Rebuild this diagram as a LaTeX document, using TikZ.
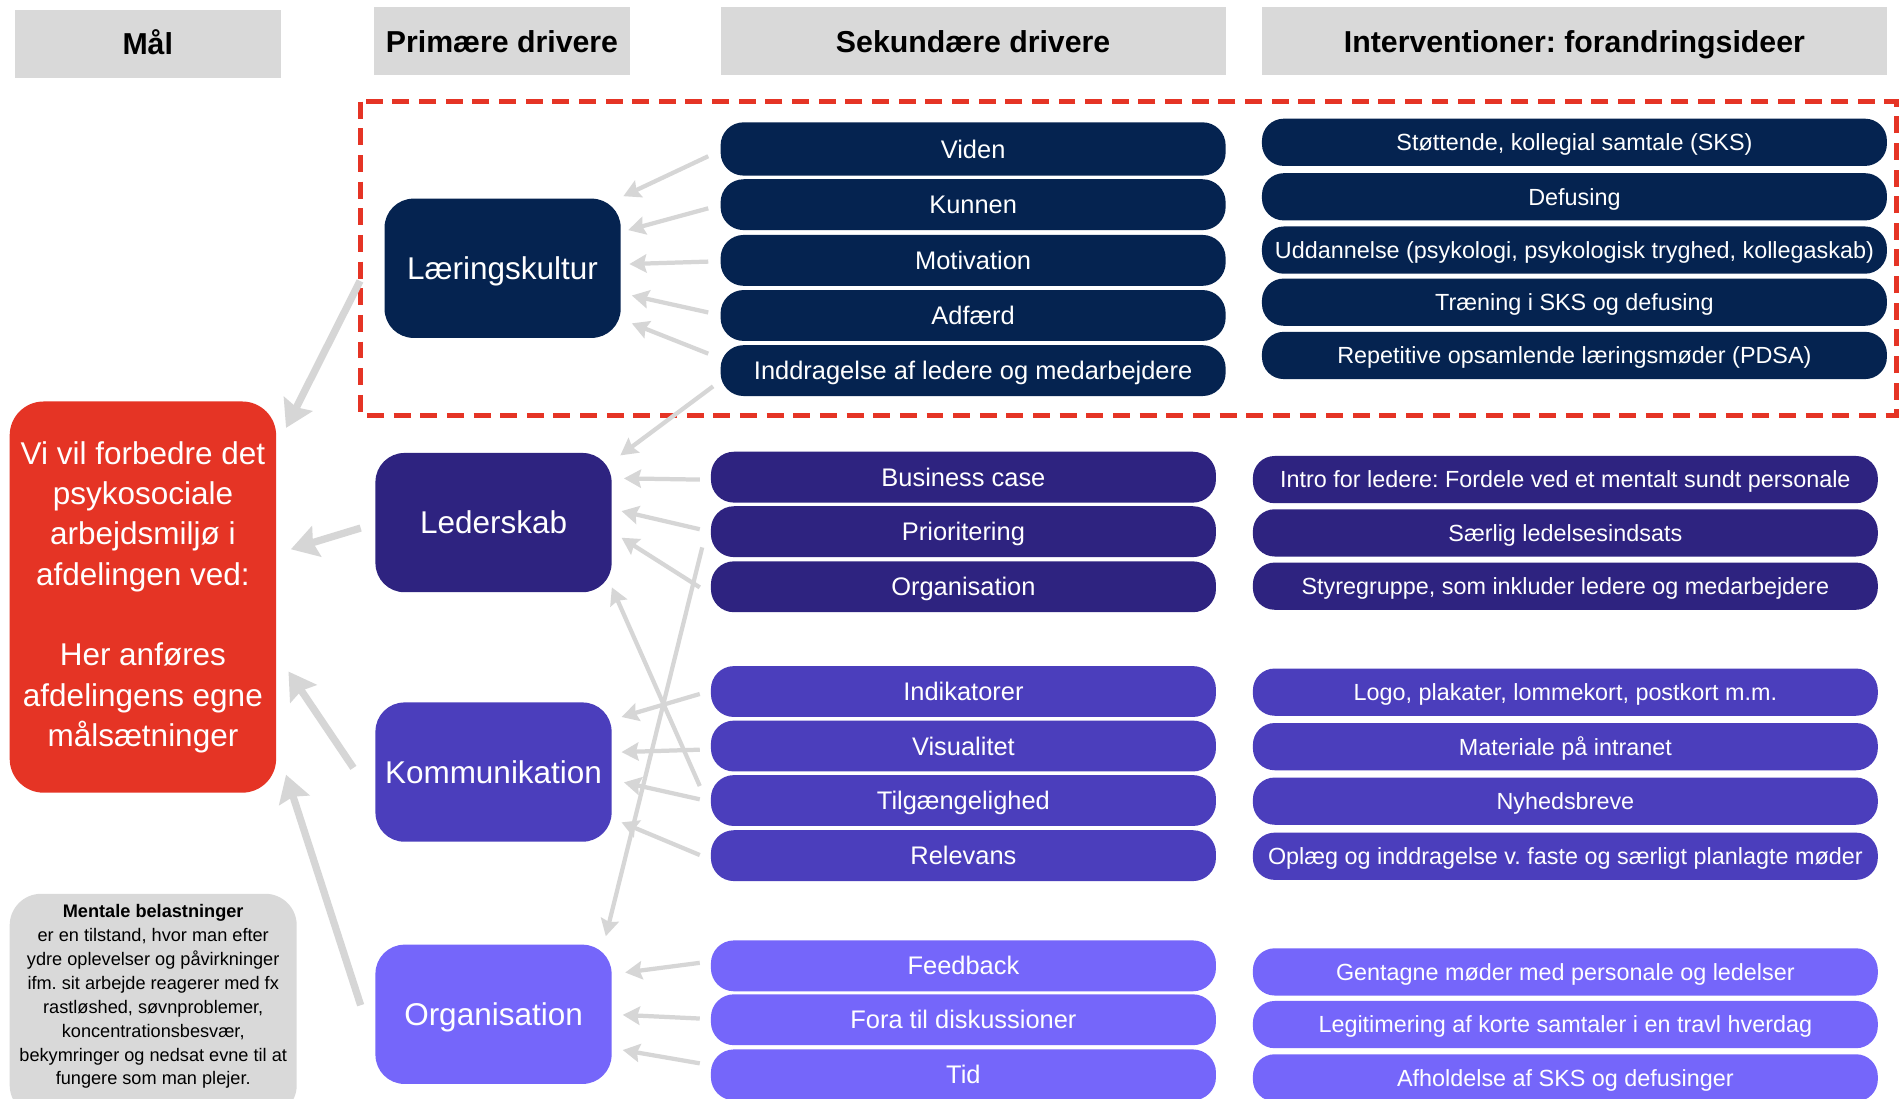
\documentclass[tikz,border=0pt]{standalone}
\usepackage{fontspec}
\setmainfont{Liberation Sans}
\frenchspacing
\usetikzlibrary{arrows.meta}
\definecolor{navy}{RGB}{5,35,80}
\definecolor{indigo}{RGB}{46,35,128}
\definecolor{violet}{RGB}{75,62,188}
\definecolor{lilac}{RGB}{117,102,250}
\definecolor{goalred}{RGB}{229,52,37}
\definecolor{headgray}{RGB}{217,217,217}
\definecolor{arrowgray}{RGB}{214,214,214}
\begin{document}
\begin{tikzpicture}[x=1pt,y=-1pt,
    head/.style={fill=headgray,minimum height=56pt,inner sep=0pt,text height=18pt,text depth=0pt,font=\bfseries\fontsize{25}{30}\selectfont},
    prim/.style={rounded corners=24pt,minimum width=195pt,minimum height=115pt,inner sep=0pt,text=white,text height=18.6pt,text depth=0pt,font=\fontsize{26}{31}\selectfont},
    sek/.style={rounded corners=19pt,minimum width=417pt,minimum height=42pt,inner sep=0pt,text=white,text height=15pt,text depth=0pt,font=\fontsize{21}{25}\selectfont},
    intv/.style={rounded corners=18pt,minimum width=516pt,minimum height=39pt,inner sep=0pt,text=white,text height=13.8pt,text depth=0pt,font=\fontsize{19.3}{23}\selectfont},
    sarrow/.style={draw=arrowgray,line width=3.5pt,-{Stealth[length=14pt,width=15pt,inset=2pt]}},
    parrow/.style={draw=arrowgray,line width=6pt,-{Stealth[length=22pt,width=26pt,inset=3pt]}}]
        \useasboundingbox (0,0) rectangle (1568,907);
        \fill[white] (0,0) rectangle (1568,907);
        \clip (0,0) rectangle (1568,907);

        %Overskrifter
        \node[head,minimum width=220pt] (hmaal) at (122,36) {Mål};
        \node[head,minimum width=211pt] (hprim) at (414.5,34) {Primære drivere};
        \node[head,minimum width=417pt] (hsek) at (803.5,34) {Sekundære drivere};
        \node[head,minimum width=516pt] (hint) at (1300,34) {Interventioner: forandringsideer};

        %Ramme
        \draw[goalred,line width=4pt,dash pattern=on 14pt off 8pt] (298,84) rectangle (1566,343);

        %Mål
        \node[fill=goalred,rounded corners=28pt,minimum width=220pt,minimum height=323pt,text=white,align=center,
              font=\fontsize{26}{33.3}\selectfont] (goal) at (118,493)
              {Vi vil forbedre det\\psykosociale\\arbejdsmiljø i\\afdelingen ved:\\[33.3pt]Her anføres\\afdelingens egne\\målsætninger};
        \node[fill=headgray,rounded corners=26pt,minimum width=237pt,minimum height=184pt] (note) at (126.5,830) {};
        \node[align=center,font=\fontsize{15}{19.7}\selectfont] (notetxt) at (note.center |- 0,823)
              {\textbf{Mentale belastninger}\\er en tilstand, hvor man efter\\ydre oplevelser og påvirkninger\\ifm. sit arbejde reagerer med fx\\rastløshed, søvnproblemer,\\koncentrationsbesvær,\\bekymringer og nedsat evne til at\\fungere som man plejer.};

        %Primære drivere
        \node[prim,fill=navy] (laering) at (415,221.5) {Læringskultur};
        \node[prim,fill=indigo] (leder) at (407.5,431.5) {Lederskab};
        \node[prim,fill=violet] (komm) at (407.5,637.5) {Kommunikation};
        \node[prim,fill=lilac] (orga) at (407.5,837.5) {Organisation};

        %Sekundære drivere
        \node[sek,fill=navy,minimum height=44pt] (viden) at (803.5,123) {Viden};
        \node[sek,fill=navy] (kunnen) at (803.5,169) {Kunnen};
        \node[sek,fill=navy] (motiv) at (803.5,215) {Motivation};
        \node[sek,fill=navy] (adfaerd) at (803.5,260.5) {Adfærd};
        \node[sek,fill=navy] (inddrag) at (803.5,306) {Inddragelse af ledere og medarbejdere};
        \node[sek,fill=indigo] (bizcase) at (795.5,394) {Business case};
        \node[sek,fill=indigo] (prio) at (795.5,439) {Prioritering};
        \node[sek,fill=indigo] (sorga) at (795.5,484.5) {Organisation};
        \node[sek,fill=violet] (indik) at (795.5,571) {Indikatorer};
        \node[sek,fill=violet] (visu) at (795.5,616) {Visualitet};
        \node[sek,fill=violet] (tilg) at (795.5,661) {Tilgængelighed};
        \node[sek,fill=violet] (relev) at (795.5,706.5) {Relevans};
        \node[sek,fill=lilac] (feedb) at (795.5,797.5) {Feedback};
        \node[sek,fill=lilac] (fora) at (795.5,842) {Fora til diskussioner};
        \node[sek,fill=lilac] (tid) at (795.5,887.5) {Tid};

        %Interventioner
        \node[intv,fill=navy] (sks) at (1300,117.5) {Støttende, kollegial samtale (SKS)};
        \node[intv,fill=navy] (defus) at (1300,162.5) {Defusing};
        \node[intv,fill=navy] (uddan) at (1300,206.5) {Uddannelse (psykologi, psykologisk tryghed, kollegaskab)};
        \node[intv,fill=navy] (traen) at (1300,249.5) {Træning i SKS og defusing};
        \node[intv,fill=navy] (pdsa) at (1300,293.5) {Repetitive opsamlende læringsmøder (PDSA)};
        \node[intv,fill=indigo] (intro) at (1292.5,396) {Intro for ledere: Fordele ved et mentalt sundt personale};
        \node[intv,fill=indigo] (saerlig) at (1292.5,440) {Særlig ledelsesindsats};
        \node[intv,fill=indigo] (styre) at (1292.5,484) {Styregruppe, som inkluder ledere og medarbejdere};
        \node[intv,fill=violet] (logo) at (1292.5,571.5) {Logo, plakater, lommekort, postkort m.m.};
        \node[intv,fill=violet] (mater) at (1292.5,616.5) {Materiale på intranet};
        \node[intv,fill=violet] (nyhed) at (1292.5,661.5) {Nyhedsbreve};
        \node[intv,fill=violet] (oplaeg) at (1292.5,707) {Oplæg og inddragelse v. faste og særligt planlagte møder};
        \node[intv,fill=lilac] (gentag) at (1292.5,802.5) {Gentagne møder med personale og ledelser};
        \node[intv,fill=lilac] (legit) at (1292.5,846) {Legitimering af korte samtaler i en travl hverdag};
        \node[intv,fill=lilac] (afhold) at (1292.5,890) {Afholdelse af SKS og defusinger};

        %Pile til mål
        \draw[parrow] ([xshift=-20pt,yshift=-10.5pt]laering.west) -- ([xshift=8pt,yshift=-22pt]goal.north east);
        \draw[parrow] ([xshift=-12pt,yshift=-4.5pt]leder.west) -- ([xshift=12pt,yshift=39.5pt]goal.east);
        \draw[parrow] ([xshift=-18pt,yshift=3.5pt]komm.west) -- ([xshift=10pt,yshift=-61.5pt]goal.east);
        \draw[parrow] ([xshift=-12pt,yshift=7.5pt]orga.west) -- ([xshift=8pt,yshift=15pt]goal.south east);

        %Pile til primære drivere
        \draw[sarrow] ([xshift=-10pt,yshift=-6pt]viden.west) -- ([xshift=2pt,yshift=59.5pt]laering.east);
        \draw[sarrow] ([xshift=-10pt,yshift=-3pt]kunnen.west) -- ([xshift=6pt,yshift=31.5pt]laering.east);
        \draw[sarrow] ([xshift=-10pt,yshift=-1pt]motiv.west) -- ([xshift=7pt,yshift=3.5pt]laering.east);
        \draw[sarrow] ([xshift=-10pt,yshift=2.5pt]adfaerd.west) -- ([xshift=9pt,yshift=-22.5pt]laering.east);
        \draw[sarrow] ([xshift=-10pt,yshift=14pt]inddrag.west) -- ([xshift=9pt,yshift=-45.5pt]laering.east);
        \draw[sarrow] ([xshift=-6pt,yshift=-13pt]inddrag.west) -- ([xshift=7pt,yshift=55.5pt]leder.east);

        \draw[sarrow] ([xshift=-9pt,yshift=-2pt]bizcase.west) -- ([xshift=10pt,yshift=36.5pt]leder.east);
        \draw[sarrow] ([xshift=-9pt,yshift=2pt]prio.west) -- ([xshift=8pt,yshift=9.5pt]leder.east);
        \draw[sarrow] ([xshift=-9pt,yshift=-0.5pt]sorga.west) -- ([xshift=8pt,yshift=-12.5pt]leder.east);
        \draw[sarrow] ([xshift=-7pt,yshift=-13pt]prio.west) -- ([xshift=-5pt,yshift=64.5pt]orga.east);

        \draw[sarrow] ([xshift=-9pt,yshift=-2pt]indik.west) -- ([xshift=8pt,yshift=45.5pt]komm.east);
        \draw[sarrow] ([xshift=-9pt,yshift=-3pt]visu.west) -- ([xshift=8pt,yshift=16.5pt]komm.east);
        \draw[sarrow] ([xshift=-9pt,yshift=1pt]tilg.west) -- ([xshift=10pt,yshift=-8.5pt]komm.east);
        \draw[sarrow] ([xshift=-9pt,yshift=0.5pt]relev.west) -- ([xshift=8pt,yshift=-41.5pt]komm.east);
        \draw[sarrow] ([xshift=-9pt,yshift=12pt]tilg.west) -- ([yshift=-53.5pt]leder.east);

        \draw[sarrow] ([xshift=-9pt,yshift=2.5pt]feedb.west) -- ([xshift=11pt,yshift=34.5pt]orga.east);
        \draw[sarrow] ([xshift=-9pt,yshift=1pt]fora.west) -- ([xshift=9pt,yshift=-0.5pt]orga.east);
        \draw[sarrow] ([xshift=-9pt,yshift=9.5pt]tid.west) -- ([xshift=9pt,yshift=-29.5pt]orga.east);
    \end{tikzpicture}
\end{document}
